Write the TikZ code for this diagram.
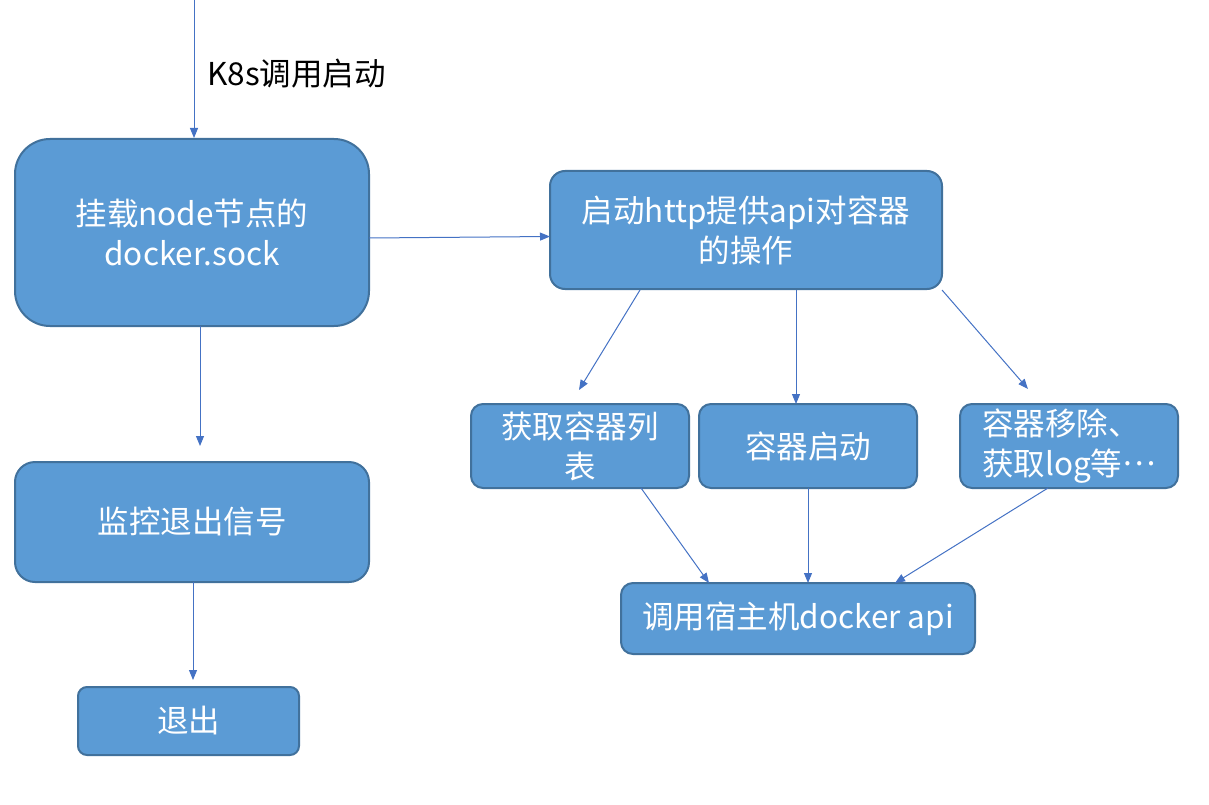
\documentclass[tikz,border=0pt]{standalone}
\usepackage{fontspec}
\setmainfont{Noto Sans CJK SC}
\usetikzlibrary{arrows.meta}
\definecolor{boxfill}{HTML}{5B9BD5}
\definecolor{boxline}{HTML}{41719C}
\definecolor{arr}{HTML}{4472C4}
\tikzset{
  box/.style={draw=boxline, fill=boxfill, line width=2pt, text=white, align=center,
    font=\fontsize{31.5}{40}\selectfont, inner sep=0pt},
  conn/.style={draw=arr, line width=1pt, -{Triangle[length=10pt,width=8pt]}},
}
\begin{document}
\begin{tikzpicture}[x=1pt,y=-1pt]
\useasboundingbox (0,0) rectangle (1209,805);
\node[box, rounded corners=35pt, minimum width=354pt, minimum height=187pt] (mount) at (192,232.5) {挂载node节点的\\docker.sock};
\node[box, rounded corners=20pt, minimum width=354pt, minimum height=120pt] (watch) at (192,522) {监控退出信号};
\node[box, rounded corners=9pt, minimum width=221pt, minimum height=68pt] (quit) at (188.5,721) {退出};
\node[box, rounded corners=15pt, minimum width=392pt, minimum height=118pt] (http) at (746,230) {启动http提供api对容器\\的操作};
\node[box, rounded corners=12pt, minimum width=218pt, minimum height=84pt] (list) at (580,446) {获取容器列\\表};
\node[box, rounded corners=12pt, minimum width=218pt, minimum height=84pt] (start) at (808,446) {容器启动};
\node[box, align=left, rounded corners=12pt, minimum width=218pt, minimum height=84pt] (remove) at (1069,446) {容器移除、\\获取log等\raisebox{0.3em}{…}};
\node[box, rounded corners=12pt, minimum width=354pt, minimum height=71pt] (api) at (798,618.5) {调用宿主机docker api};
\coordinate (top) at (194,0);
\node[font=\fontsize{31.5}{40}\selectfont, anchor=west, inner sep=0pt] (k8s) at (207,74) {K8s调用启动};
\draw[conn] (top) -- (194,138);
\draw[conn] (200,326) -- (200,446);
\draw[conn] (193,582) -- (193,680);
\draw[conn] (369,238) -- (550,236.5);
\draw[conn] (640,290) -- (579,390);
\draw[conn] (796,290) -- (796,404);
\draw[conn] (942,290) -- (1028,389);
\draw[conn] (641,488) -- (709,583);
\draw[conn] (808,488) -- (808,583);
\draw[conn] (1048,488) -- (895,583);
\end{tikzpicture}
\end{document}
